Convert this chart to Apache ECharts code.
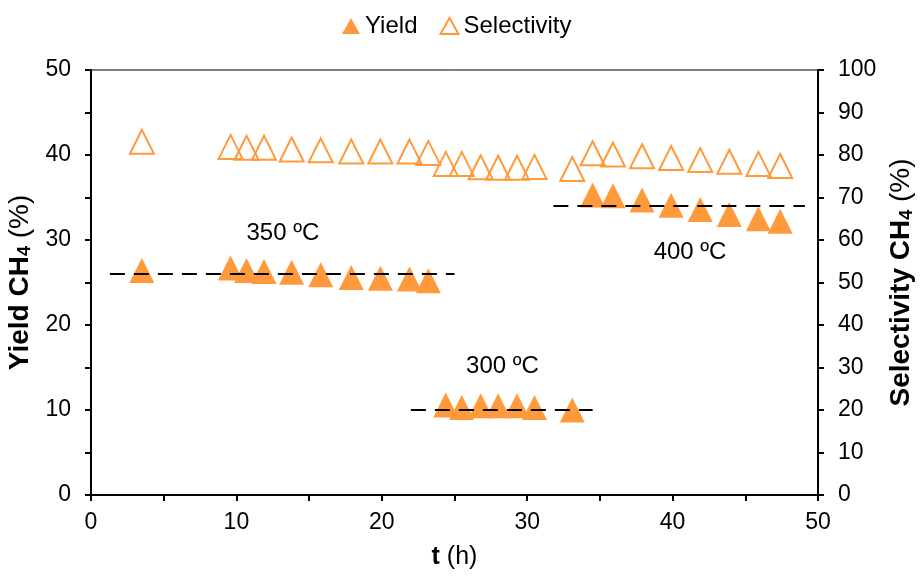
<!DOCTYPE html>
<html>
<head>
<meta charset="utf-8">
<script src="https://cdn.jsdelivr.net/npm/echarts@6/dist/echarts.min.js"></script>
<style>
html,body{margin:0;padding:0;background:#fff;}
#main{width:920px;height:576px;}
</style>
</head>
<body>
<div id="main"></div>
<script>
// time on stream (h)
var timeH = [3.5, 9.6, 10.7, 11.9, 13.8, 15.8, 17.9, 19.9, 21.9, 23.2,
    24.4, 25.5, 26.8, 28.0, 29.3, 30.5, 33.1,
    34.5, 35.9, 37.9, 39.9, 41.9, 43.9, 45.9, 47.4];
// CH4 yield (%) - left axis
var yieldCH4 = [26.4, 26.7, 26.4, 26.3, 26.2, 25.9, 25.6, 25.5, 25.4, 25.2,
    10.6, 10.3, 10.5, 10.5, 10.5, 10.3, 10.0,
    35.3, 35.2, 34.7, 34.1, 33.6, 33.0, 32.5, 32.2];
// CH4 selectivity (%) - right axis
var selectCH4 = [83.1, 81.9, 81.7, 81.7, 81.3, 81.1, 80.8, 80.8, 80.8, 80.5,
    77.9, 77.9, 77.1, 77.0, 77.0, 77.2, 76.7,
    80.4, 80.1, 79.7, 79.3, 78.8, 78.4, 77.9, 77.4];
// dashed mean lines of each temperature step
var dash350 = [[1.3, 26], [25.0, 26]];
var dash300 = [[22.0, 10], [34.5, 10]];
var dash400 = [[31.8, 34], [49.1, 34]];
// temperature labels
var tempText = ['350 ºC', '300 ºC', '400 ºC'];
var tempPos = [[13.2, 30.8], [28.3, 15.1], [41.2, 28.6]];

var orange = '#FF9A3C';
var font = 'Liberation Sans, Arial, sans-serif';

var yieldData = timeH.map(function(t, i){ return [t, yieldCH4[i]]; });
var selData = timeH.map(function(t, i){ return [t, selectCH4[i]]; });
var labelData = tempPos.map(function(p, i){ return { value: p, name: tempText[i] }; });

function dashSeries(d){
    return {
        type: 'line',
        data: d,
        symbol: 'none',
        silent: true,
        z: 5,
        lineStyle: { color: '#000', width: 2, type: [15, 9] }
    };
}

var titleRich = {
    b: { fontSize: 28, fontWeight: 'bold', color: '#000', fontFamily: font },
    s: { fontSize: 18, fontWeight: 'bold', color: '#000', fontFamily: font, padding: [11, 0, 0, 0] },
    n: { fontSize: 28, color: '#000', fontFamily: font }
};
var xTitleRich = {
    b: { fontSize: 25, fontWeight: 'bold', color: '#000', fontFamily: font },
    n: { fontSize: 25, color: '#000', fontFamily: font }
};

var myChart = echarts.init(document.getElementById('main'));
myChart.setOption({
    animation: false,
    textStyle: { fontFamily: font },
    legend: {
        data: ['Yield', 'Selectivity'],
        top: 9,
        left: 337,
        itemWidth: 18,
        itemHeight: 16,
        itemGap: 22,
        textStyle: { fontSize: 24, color: '#000', fontFamily: font }
    },
    grid: {
        left: 91, right: 102, top: 70, bottom: 81,
        outerBoundsMode: 'none',
        show: true, borderColor: '#000', borderWidth: 1
    },
    xAxis: {
        type: 'value',
        min: 0, max: 50, interval: 5,
        splitLine: { show: false },
        axisLine: { lineStyle: { color: '#000', width: 2 } },
        axisTick: { length: 6, lineStyle: { color: '#000', width: 2 } },
        axisLabel: {
            fontSize: 23, color: '#000', margin: 16,
            formatter: function(v){ return v % 10 === 0 ? v : ''; }
        },
        name: '{b|t}{n| (h)}',
        nameLocation: 'middle',
        nameGap: 50,
        nameTextStyle: { rich: xTitleRich }
    },
    yAxis: [{
        type: 'value',
        min: 0, max: 50, interval: 5,
        splitLine: { show: false },
        axisLine: { show: true, lineStyle: { color: '#000', width: 2 } },
        axisTick: { show: true, length: 6, lineStyle: { color: '#000', width: 2 } },
        axisLabel: {
            fontSize: 23, color: '#000', margin: 20,
            formatter: function(v){ return v % 10 === 0 ? v : ''; }
        },
        name: '{b|Yield CH}{s|4}{n| (%)}',
        nameLocation: 'middle',
        nameRotate: 90,
        nameGap: 50,
        nameTextStyle: { rich: titleRich }
    }, {
        type: 'value',
        position: 'right',
        min: 0, max: 100, interval: 10,
        splitLine: { show: false },
        axisLine: { show: true, lineStyle: { color: '#000', width: 2 } },
        axisTick: { show: true, length: 6, lineStyle: { color: '#000', width: 2 } },
        axisLabel: { fontSize: 23, color: '#000', margin: 20 },
        name: '{b|Selectivity CH}{s|4}{n| (%)}',
        nameLocation: 'middle',
        nameRotate: 90,
        nameGap: 69,
        nameTextStyle: { rich: titleRich }
    }],
    series: [
        {
            name: 'Yield',
            type: 'scatter',
            data: yieldData,
            symbol: 'triangle',
            symbolSize: 25,
            z: 3,
            itemStyle: { color: orange, opacity: 1 }
        },
        {
            name: 'Selectivity',
            type: 'scatter',
            yAxisIndex: 1,
            data: selData,
            symbol: 'triangle',
            symbolSize: 24,
            z: 3,
            itemStyle: { color: 'rgba(255,255,255,0)', borderColor: orange, borderWidth: 2, opacity: 1 }
        },
        dashSeries(dash350),
        dashSeries(dash300),
        dashSeries(dash400),
        {
            name: 'labels',
            type: 'scatter',
            data: labelData,
            symbolSize: 0,
            silent: true,
            z: 6,
            itemStyle: { opacity: 1 },
            label: {
                show: true,
                position: 'inside',
                formatter: function(p){ return p.name; },
                fontSize: 24, color: '#000', fontFamily: font
            }
        }
    ]
});
</script>
</body>
</html>
